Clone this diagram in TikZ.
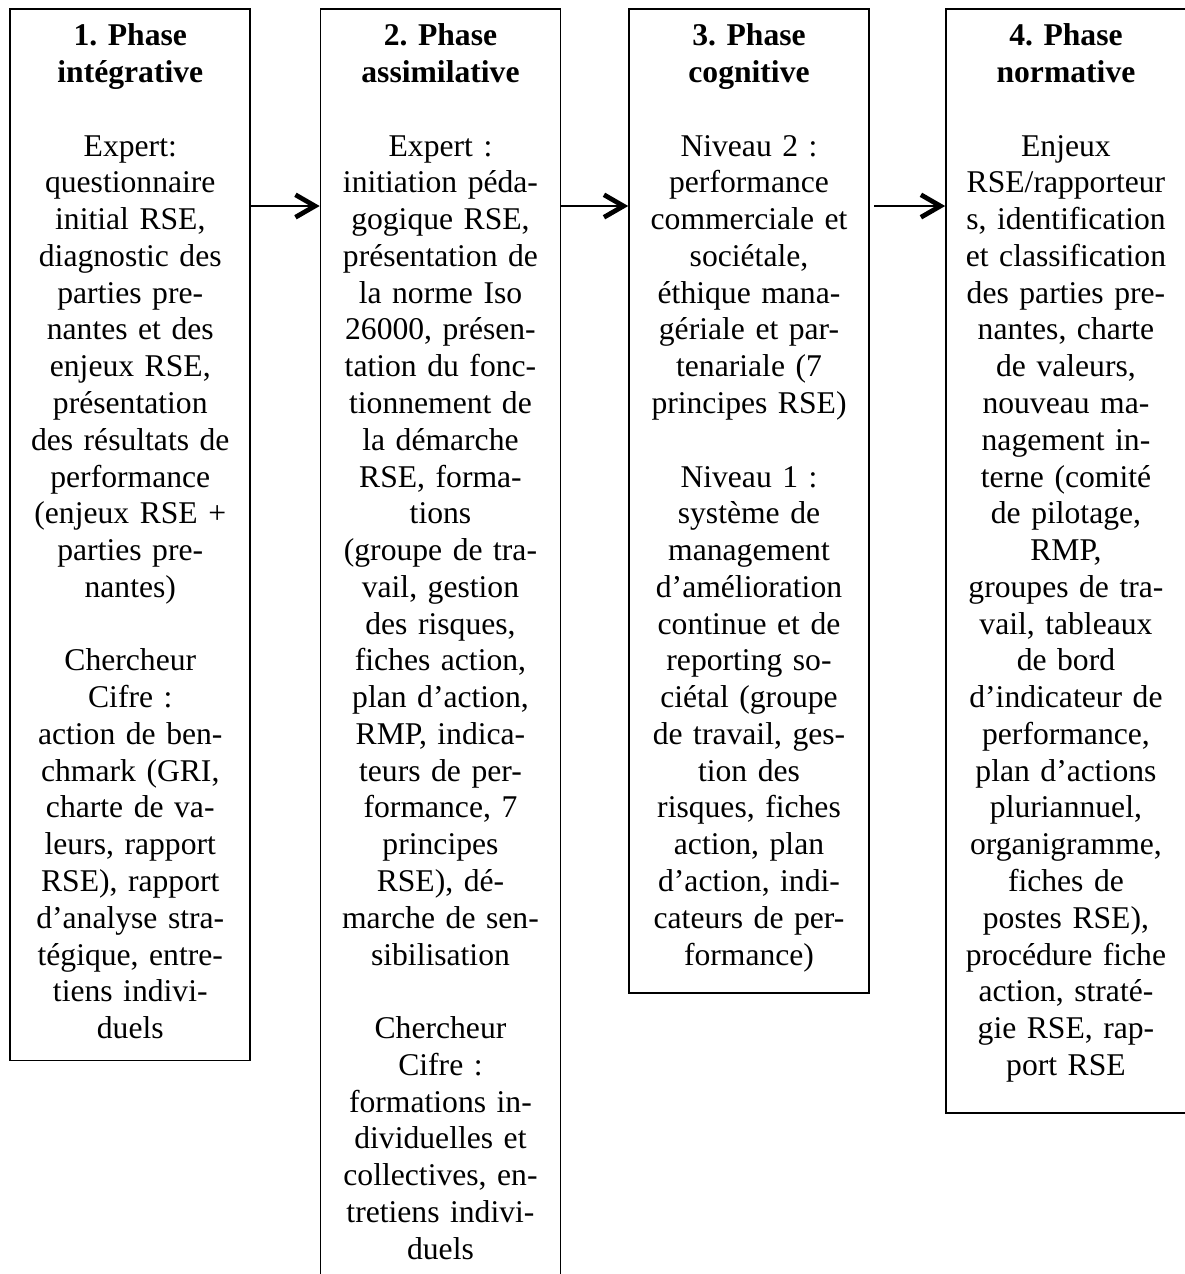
\documentclass[tikz,border=0pt]{standalone}
\usepackage{fontspec}
\setmainfont{Liberation Serif}
\usepackage{tikz}
\usetikzlibrary{arrows.meta}

\newcommand{\gapline}{13.95pt}
\frenchspacing

\begin{document}
\begin{tikzpicture}
	\tikzstyle{phase}=[rectangle, draw=black, line width=0.6pt, anchor=north, align=center,
		text width=3.2cm, inner xsep=0pt, inner ysep=0pt, text height=0.487cm,
		font=\fontsize{12pt}{\gapline}\selectfont]
	\tikzstyle{flow}=[-{Straight Barb[length=0.26cm, width=0.3cm, line width=1.8pt]}, line width=1pt]
	\useasboundingbox (0,0) rectangle (15.787,-16.987);

	\node[phase, text depth=13.53cm] (integ) at (1.737,-0.113) {
		\textbf{1. Phase}\\
		\textbf{intégrative}\\[\gapline]
		Expert:\\ questionnaire\\ initial RSE,\\ diagnostic des\\ parties pre-\\ nantes et des\\
		enjeux RSE,\\ présentation\\ des résultats de\\ performance\\ (enjeux RSE +\\
		parties pre-\\ nantes)\\[\gapline]
		Chercheur\\ Cifre :\\ action de ben-\\ chmark (GRI,\\ charte de va-\\ leurs, rapport\\
		RSE), rapport\\ d’analyse stra-\\ tégique, entre-\\ tiens indivi-\\ duels
	};

	\node[phase, text depth=16.8cm] (assim) at (5.873,-0.113) {
		\textbf{2. Phase}\\
		\textbf{assimilative}\\[\gapline]
		Expert :\\ initiation péda-\\ gogique RSE,\\ présentation de\\ la norme Iso\\
		26000, présen-\\ tation du fonc-\\ tionnement de\\ la démarche\\ RSE, forma-\\ tions\\
		(groupe de tra-\\ vail, gestion\\ des risques,\\ fiches action,\\ plan d’action,\\
		RMP, indica-\\ teurs de per-\\ formance, 7\\ principes\\ RSE), dé-\\ marche de sen-\\
		sibilisation\\[\gapline]
		Chercheur\\ Cifre :\\ formations in-\\ dividuelles et\\ collectives, en-\\
		tretiens indivi-\\ duels
	};

	\node[phase, text depth=12.63cm] (cogn) at (9.987,-0.113) {
		\textbf{3. Phase}\\
		\textbf{cognitive}\\[\gapline]
		Niveau 2 :\\ performance\\ commerciale et\\ sociétale,\\ éthique mana-\\
		gériale et par-\\ tenariale (7\\ principes RSE)\\[\gapline]
		Niveau 1 :\\ système de\\ management\\ d’amélioration\\ continue et de\\
		reporting so-\\ ciétal (groupe\\ de travail, ges-\\ tion des\\ risques, fiches\\
		action, plan\\ d’action, indi-\\ cateurs de per-\\ formance)
	};

	\node[phase, text depth=14.23cm] (norm) at (14.213,-0.113) {
		\textbf{4. Phase}\\
		\textbf{normative}\\[\gapline]
		Enjeux\\ RSE/rapporteur\\ s, identification\\ et classification\\ des parties pre-\\
		nantes, charte\\ de valeurs,\\ nouveau ma-\\ nagement in-\\ terne (comité\\
		de pilotage,\\ RMP,\\ groupes de tra-\\ vail, tableaux\\ de bord\\
		d’indicateur de\\ performance,\\ plan d’actions\\ pluriannuel,\\ organigramme,\\
		fiches de\\ postes RSE),\\ procédure fiche\\ action, straté-\\ gie RSE, rap-\\
		port RSE
	};

	\coordinate (arrowrow) at (0,-2.747);
	\path[flow]
		(integ.east |- arrowrow) edge (assim.west |- arrowrow)
		(assim.east |- arrowrow) edge (cogn.west |- arrowrow)
		([xshift=0.06cm]cogn.east |- arrowrow) edge (norm.west |- arrowrow);

\end{tikzpicture}
\end{document}
